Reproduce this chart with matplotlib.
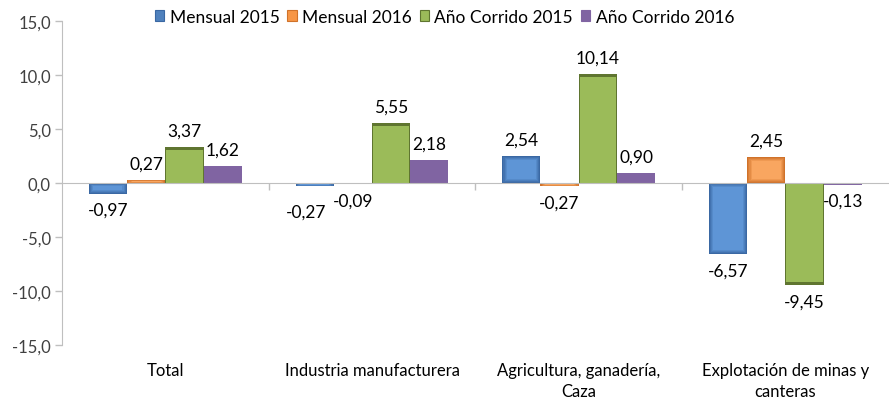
import numpy as np
import matplotlib
matplotlib.use("Agg")
import matplotlib.pyplot as plt
from matplotlib.patches import Patch
from matplotlib.colors import to_rgb
from matplotlib.transforms import blended_transform_factory

# =========================
# DATA
# =========================

categories = ["Total", "Industria manufacturera",
              "Agricultura, ganadería,\nCaza", "Explotación de minas y\ncanteras"]
series_names = ["Mensual 2015", "Mensual 2016", "Año Corrido 2015", "Año Corrido 2016"]

mensual_2015 = [-0.97, -0.27, 2.54, -6.57]
mensual_2016 = [0.27, -0.09, -0.27, 2.45]
corrido_2015 = [3.37, 5.55, 10.14, -9.45]
corrido_2016 = [1.62, 2.18, 0.90, -0.13]

y_ticks = [-15, -10, -5, 0, 5, 10, 15]

series_values = [mensual_2015, mensual_2016, corrido_2015, corrido_2016]
face_colors = ["#4F81BD", "#F79646", "#9BBB59", "#8064A2"]
edge_colors = ["#3A68A3", "#D0722A", "#5F7530", "#8064A2"]
inner_colors = ["#5E95D6", "#F9A660", "#9BBB59", "#8064A2"]

plt.rcParams["font.family"] = ["Lato", "DejaVu Sans"]


def mix(c1, c2, t):
    a, b = np.array(to_rgb(c1)), np.array(to_rgb(c2))
    return tuple(a + (b - a) * t)


fig = plt.figure(figsize=(8.89, 4.02), dpi=100)
ax = fig.add_axes([0.0697, 0.139, 0.93, 0.806])

x = np.arange(len(categories))
bar_w = 0.185
n = len(series_values)

for i, vals in enumerate(series_values):
    xs = x + (i - (n - 1) / 2) * bar_w
    vals = np.array(vals)
    bevel = i < 2
    # outer edge
    ax.bar(xs, vals, width=bar_w, color=edge_colors[i], linewidth=0)
    if bevel:
        steps = [0.25, 0.5, 0.75, 1.0]
        for t in steps:
            dy = np.minimum(0.4, np.abs(vals) * 0.3) * np.sign(vals) * t
            ix = bar_w * 0.12 * t
            ax.bar(xs, vals - 2 * dy, bottom=dy, width=bar_w - 2 * ix,
                   color=mix(edge_colors[i], inner_colors[i], t), linewidth=0)
    else:
        top = np.minimum(0.3, np.abs(vals) * 0.3) * np.sign(vals)
        ix = bar_w * 0.025
        ax.bar(xs, vals - top, width=bar_w - 2 * ix, color=inner_colors[i],
               linewidth=0)
    for j, (xx, v) in enumerate(zip(xs, vals)):
        label = f"{v:.2f}".replace(".", ",")
        dx, oy = 0, 6 if v >= 0 else -6
        if i == 0 and j == 1:
            dx, oy = -6, -13
        ax.annotate(label, (xx, v), xytext=(dx, oy), textcoords="offset points",
                    ha="center", va="bottom" if v >= 0 else "top",
                    fontsize=12.5, color="black")

ax.set_xlim(-0.5, len(categories) - 0.5)
ax.set_ylim(-15, 15)
ax.set_yticks(y_ticks)
ax.set_yticklabels([f"{t:.1f}".replace(".", ",") for t in y_ticks])
ax.tick_params(axis="y", length=5, width=1, color="#BFBFBF", labelsize=12,
               labelcolor="#404040", pad=3)

ax.spines["top"].set_visible(False)
ax.spines["right"].set_visible(False)
ax.spines["left"].set_color("#BFBFBF")
ax.spines["bottom"].set_color("#BFBFBF")
ax.spines["bottom"].set_position(("data", 0))

ax.set_xticks(x)
ax.set_xticklabels([])
ax.tick_params(axis="x", which="major", length=0)
ax.set_xticks(x[:-1] + 0.5, minor=True)
ax.tick_params(axis="x", which="minor", length=5, width=1, color="#BFBFBF",
               direction="out")

trans = blended_transform_factory(ax.transData, ax.transAxes)
for xx, cat in zip(x, categories):
    ax.text(xx, -0.052, cat, transform=trans, ha="center", va="top",
            fontsize=12, color="black", linespacing=1.35)

handles = [Patch(facecolor=c, edgecolor=e, linewidth=0.8)
           for c, e in zip(face_colors, edge_colors)]
fig.legend(handles, series_names, loc="upper center", bbox_to_anchor=(0.5, 1.015),
           ncol=4, frameon=False, fontsize=12.5, handlelength=0.55, handleheight=0.55,
           handletextpad=0.3, columnspacing=0.45)

fig.savefig("out.png", dpi=100)
